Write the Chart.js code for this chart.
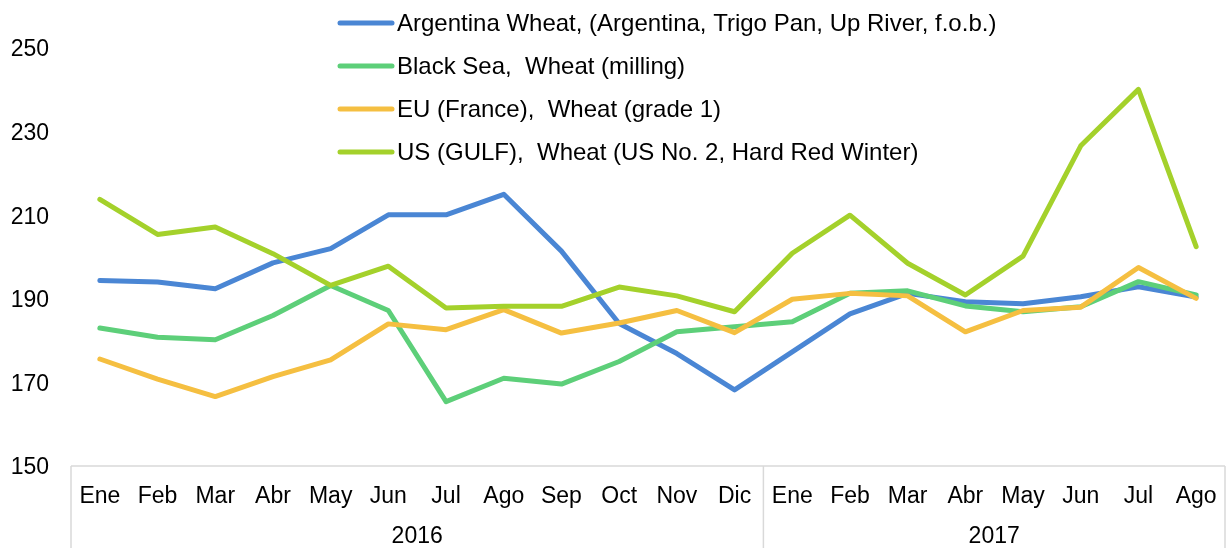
<!DOCTYPE html>
<html>
<head>
<meta charset="utf-8">
<script src="https://cdn.jsdelivr.net/npm/chart.js@4"></script>
<style>
  html, body { margin: 0; padding: 0; background: #ffffff; }
  #wrap { width: 1226px; height: 548px; position: relative; }
</style>
</head>
<body>
<div id="wrap"><canvas id="c"></canvas></div>
<script>
const months = ['Ene','Feb','Mar','Abr','May','Jun','Jul','Ago','Sep','Oct','Nov','Dic',
                'Ene','Feb','Mar','Abr','May','Jun','Jul','Ago'];
const years = ['2016', '2017'];
const monthsPerYear = [12, 8];

const seriesNames = [
  'Argentina Wheat, (Argentina, Trigo Pan, Up River, f.o.b.)',
  'Black Sea,  Wheat (milling)',
  'EU (France),  Wheat (grade 1)',
  'US (GULF),  Wheat (US No. 2, Hard Red Winter)'
];
const argentina = [194.4, 194.0, 192.4, 198.6, 202.0, 210.1, 210.1, 215.0, 201.4, 184.1, 176.9, 168.2,
                   177.3, 186.4, 191.3, 189.3, 188.8, 190.5, 192.9, 190.4];
const blackSea  = [183.0, 180.8, 180.2, 186.0, 193.2, 187.2, 165.4, 171.0, 169.6, 175.0, 182.1, 183.3,
                   184.5, 191.3, 191.9, 188.3, 186.9, 188.1, 194.1, 190.9];
const euFrance  = [175.6, 170.8, 166.6, 171.4, 175.4, 184.0, 182.6, 187.4, 181.8, 184.2, 187.2, 181.9,
                   189.9, 191.3, 190.7, 182.1, 187.2, 188.0, 197.5, 190.1];
const usGulf    = [213.8, 205.4, 207.2, 200.8, 193.2, 197.8, 187.8, 188.2, 188.2, 192.8, 190.7, 186.9,
                   200.9, 210.0, 198.5, 190.9, 200.2, 226.6, 240.1, 202.5];
const yTicks = [150, 170, 190, 210, 230, 250];

const colors = ['#4a86d4', '#5dcf79', '#f5bf41', '#a4d12b'];
const FONT = '"Liberation Sans", Arial, sans-serif';
const FS = 23;
const LEGEND_FS = 24;

const legendPlugin = {
  id: 'topLegend',
  afterDraw(chart) {
    const ctx = chart.ctx;
    ctx.save();
    ctx.font = LEGEND_FS + 'px ' + FONT;
    ctx.textBaseline = 'middle';
    ctx.textAlign = 'left';
    const rowY = [23, 66, 109, 152];
    chart.data.datasets.forEach((ds, i) => {
      const y = rowY[i];
      ctx.strokeStyle = ds.borderColor;
      ctx.lineWidth = 5;
      ctx.lineCap = 'round';
      ctx.beginPath();
      ctx.moveTo(340, y);
      ctx.lineTo(392, y);
      ctx.stroke();
      ctx.fillStyle = '#000000';
      ctx.fillText(ds.label, 397, y + 1);
    });
    ctx.restore();
  }
};

const axisBoxPlugin = {
  id: 'axisBox',
  afterDraw(chart) {
    const ctx = chart.ctx;
    const xs = chart.scales.x;
    const bottom = chart.chartArea.bottom;
    const H = chart.height;
    ctx.save();
    ctx.strokeStyle = '#d9d9d9';
    ctx.lineWidth = 1.5;
    ctx.beginPath();
    ctx.moveTo(xs.left, bottom);
    ctx.lineTo(xs.right, bottom);
    let idx = 0;
    const bounds = [xs.left];
    monthsPerYear.forEach((n) => {
      idx += n;
      if (idx < months.length) {
        bounds.push((xs.getPixelForValue(idx - 1) + xs.getPixelForValue(idx)) / 2);
      } else {
        bounds.push(xs.right);
      }
    });
    bounds.forEach((bx) => {
      ctx.moveTo(bx, bottom);
      ctx.lineTo(bx, H);
    });
    ctx.stroke();
    ctx.fillStyle = '#000000';
    ctx.font = FS + 'px ' + FONT;
    ctx.textAlign = 'center';
    ctx.textBaseline = 'middle';
    years.forEach((yr, i) => {
      ctx.fillText(yr, (bounds[i] + bounds[i + 1]) / 2, 537);
    });
    ctx.restore();
  }
};

const datasets = [argentina, blackSea, euFrance, usGulf].map((vals, i) => ({
  label: seriesNames[i],
  data: vals,
  borderColor: colors[i],
  backgroundColor: colors[i],
  borderWidth: 5,
  pointRadius: 0,
  pointHoverRadius: 0,
  tension: 0,
  borderJoinStyle: 'round',
  borderCapStyle: 'round',
  fill: false,
  order: 4 - i
}));

new Chart(document.getElementById('c'), {
  type: 'line',
  data: { labels: months, datasets: datasets },
  plugins: [legendPlugin, axisBoxPlugin],
  options: {
    responsive: true,
    maintainAspectRatio: false,
    animation: false,
    events: [],
    layout: { padding: { top: 48, right: 1, bottom: 0, left: 0 } },
    plugins: {
      legend: { display: false },
      tooltip: { enabled: false },
      title: { display: false }
    },
    scales: {
      x: {
        type: 'category',
        offset: true,
        grid: { display: false, drawTicks: true, tickLength: 17 },
        border: { display: false },
        ticks: {
          color: '#000000',
          font: { family: FONT, size: FS },
          padding: 0,
          maxRotation: 0,
          autoSkip: false
        },
        afterFit(scale) { scale.height = 82; }
      },
      y: {
        min: 150,
        max: 250,
        afterBuildTicks(scale) { scale.ticks = yTicks.map(v => ({ value: v })); },
        grid: { display: false, drawTicks: false },
        border: { display: false },
        ticks: {
          color: '#000000',
          font: { family: FONT, size: FS },
          padding: 22,
          labelOffset: 2
        },
        afterFit(scale) { scale.width = 71; }
      }
    }
  }
});
</script>
</body>
</html>
